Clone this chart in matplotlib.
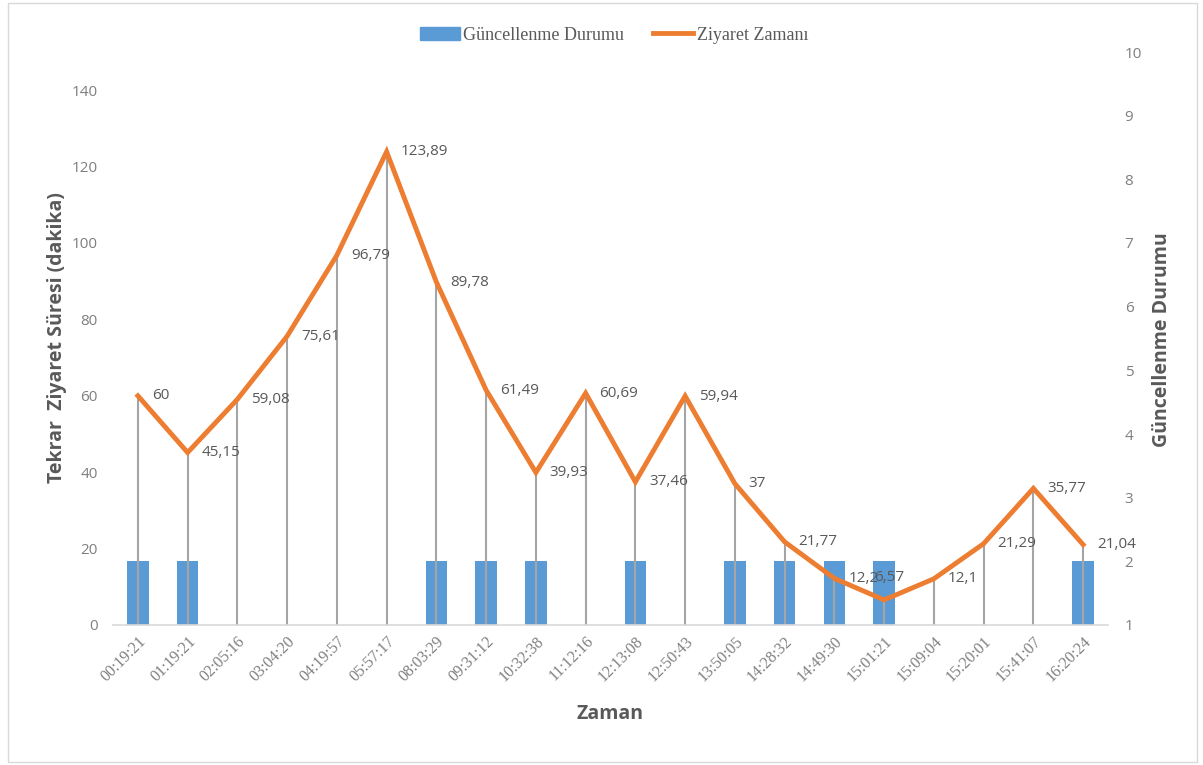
import matplotlib
matplotlib.use("Agg")
import matplotlib.pyplot as plt
from matplotlib.patches import Rectangle
from matplotlib.lines import Line2D
from matplotlib.patches import Patch

times = ["00:19:21", "01:19:21", "02:05:16", "03:04:20", "04:19:57", "05:57:17",
         "08:03:29", "09:31:12", "10:32:38", "11:12:16", "12:13:08", "12:50:43",
         "13:50:05", "14:28:32", "14:49:30", "15:01:21", "15:09:04", "15:20:01",
         "15:41:07", "16:20:24"]
visit = [60, 45.15, 59.08, 75.61, 96.79, 123.89, 89.78, 61.49, 39.93, 60.69,
         37.46, 59.94, 37, 21.77, 12.2, 6.57, 12.1, 21.29, 35.77, 21.04]
update = [2, 2, 1, 1, 1, 1, 2, 2, 2, 1, 2, 1, 2, 2, 2, 2, 1, 1, 1, 2]

BLUE = "#5B9BD5"
ORANGE = "#ED7D31"
GRAY_TXT = "#595959"
TICK_TXT = "#7F7F7F"

fig = plt.figure(figsize=(12.03, 7.65), dpi=100)
ax = fig.add_axes([113/1203, 1-625/765, (1108-113)/1203, (625-52)/765])
ax2 = ax.twinx()
ax.set_zorder(ax2.get_zorder() + 1)
ax.patch.set_visible(False)

x = list(range(len(times)))
# bars on secondary axis, baseline 1
ax2.bar(x, [u - 1 for u in update], bottom=1, width=0.43, color=BLUE, zorder=1)
ax2.set_ylim(1, 10)
ax2.set_yticks(range(1, 11))

# drop lines and line on primary
ax.vlines(x, 0, visit, color="#A5A5A5", lw=1.5, zorder=2)
ax.plot(x, visit, color=ORANGE, lw=3.5, solid_joinstyle="miter", zorder=3)
ax.set_ylim(0, 150)
ax.set_yticks(range(0, 141, 20))
ax.set_xlim(-0.5, len(times) - 0.5)
ax.set_xticks(x)
ax.set_xticklabels(times, rotation=45, ha="right", rotation_mode="anchor",
                   family="Liberation Serif", fontsize=11.5, color=TICK_TXT)

for i, (xi, v) in enumerate(zip(x, visit)):
    lab = ("%g" % v).replace(".", ",")
    if i == 15:
        off, ha = (4, 16), "center"
    else:
        off, ha = (10, 0), "left"
    ax.annotate(lab, (xi, v), xytext=off, textcoords="offset points",
                ha=ha, va="center", fontsize=11, color=GRAY_TXT,
                family="Open Sans", zorder=5)

for a in (ax, ax2):
    for s in a.spines.values():
        s.set_visible(False)
    a.tick_params(length=0)
ax.spines["bottom"].set_visible(True)
ax.spines["bottom"].set_color("#D9D9D9")
ax.spines["bottom"].set_linewidth(1.2)
ax.tick_params(axis="x", pad=6)
ax.tick_params(axis="y", pad=11, labelsize=11, labelcolor=TICK_TXT)
ax2.tick_params(axis="y", pad=12, labelsize=11, labelcolor=TICK_TXT)
for t in ax.get_yticklabels() + ax2.get_yticklabels():
    t.set_family("Open Sans")

fig.text(57/1203, 1-338/765, "Tekrar  Ziyaret Süresi (dakika)", rotation=90,
         ha="center", va="center", fontsize=14, fontweight="bold",
         color=GRAY_TXT, family="Open Sans")
fig.text(1162/1203, 1-340/765, "Güncellenme Durumu", rotation=90,
         ha="center", va="center", fontsize=14, fontweight="bold",
         color=GRAY_TXT, family="Open Sans")
fig.text(610/1203, 1-714/765, "Zaman", ha="center", va="center",
         fontsize=14, fontweight="bold", color=GRAY_TXT, family="Open Sans")

handles = [Patch(color=BLUE), Line2D([0], [0], color=ORANGE, lw=3.5)]
leg = fig.legend(handles, ["Güncellenme Durumu", "Ziyaret Zamanı"],
                 loc="center", bbox_to_anchor=(614/1203, 1-35/765), ncol=2,
                 frameon=False, prop={"family": "Liberation Serif", "size": 13},
                 handlelength=2.2, handletextpad=0.2, columnspacing=1.6)
for t in leg.get_texts():
    t.set_color(GRAY_TXT)

fig.patches.append(Rectangle((8/1203, 3/765), 1189/1203, 759/765,
                             transform=fig.transFigure, fill=False,
                             edgecolor="#D9D9D9", lw=1))

fig.savefig("out.png", dpi=100)
